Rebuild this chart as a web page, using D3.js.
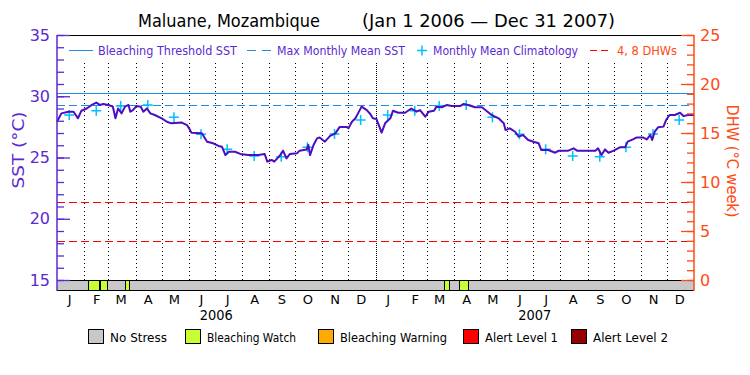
<!DOCTYPE html>
<html>
<head>
<meta charset="utf-8">
<script src="https://cdn.jsdelivr.net/npm/d3@7"></script>
<style>
body { margin: 0; background: #fff; }
text { font-family: "DejaVu Sans", sans-serif; }
</style>
</head>
<body>
<div id="chart"></div>
<script>
// SST: day offset from Jan 1 2006, value in deg C
var sstDay = [0, 5, 13, 19, 24, 28, 34, 40, 45, 49, 53, 59, 64, 67, 70, 74, 78, 82, 84, 87, 91, 96, 99, 103, 107, 112, 120, 126, 131, 143, 149, 152, 154, 166, 172, 179, 185, 189, 193, 197, 204, 210, 219, 231, 238, 241, 246, 249, 256, 259, 263, 267, 275, 278, 286, 288, 290, 294, 298, 301, 307, 313, 319, 324, 332, 334, 338, 342, 345, 349, 355, 359, 362, 366, 368, 372, 376, 382, 385, 391, 399, 406, 412, 416, 422, 426, 432, 435, 441, 447, 452, 462, 466, 471, 479, 487, 492, 498, 506, 512, 514, 519, 525, 529, 534, 540, 546, 552, 555, 563, 571, 575, 586, 592, 596, 617, 620, 624, 628, 632, 638, 645, 651, 654, 660, 664, 672, 676, 680, 682, 685, 689, 695, 698, 702, 708, 714, 718, 723, 730];
var sstVal = [27.92, 28.6, 28.74, 28.74, 28.2, 28.82, 29.0, 29.29, 29.48, 29.29, 29.37, 29.29, 29.15, 28.2, 29.0, 28.6, 29.15, 29.29, 28.74, 28.87, 29.2, 29.15, 28.74, 29.0, 28.6, 28.47, 28.2, 27.92, 27.79, 27.85, 27.65, 27.3, 27.03, 26.98, 26.29, 26.16, 25.94, 25.88, 25.2, 25.47, 25.47, 25.29, 25.2, 25.2, 25.29, 24.66, 24.8, 24.66, 25.2, 25.56, 24.93, 25.29, 25.34, 25.56, 25.65, 26.02, 25.2, 26.02, 26.56, 26.63, 26.29, 26.76, 26.97, 27.5, 27.5, 27.38, 27.92, 28.2, 28.6, 29.15, 28.87, 28.55, 28.2, 28.15, 27.79, 27.03, 27.79, 28.2, 28.82, 28.65, 28.65, 29.0, 28.74, 28.87, 28.33, 28.74, 28.82, 29.15, 29.1, 29.29, 29.2, 29.2, 29.37, 29.29, 29.1, 29.1, 28.82, 28.47, 28.2, 27.79, 27.24, 27.38, 27.1, 26.7, 26.84, 26.43, 26.29, 26.16, 25.61, 25.61, 25.39, 25.56, 25.56, 25.75, 25.56, 25.56, 25.75, 25.2, 25.66, 25.39, 25.56, 25.83, 25.83, 26.29, 26.48, 26.63, 26.63, 26.48, 26.84, 26.43, 27.11, 27.47, 27.52, 28.06, 28.47, 28.47, 28.65, 28.38, 28.47, 28.47];

// monthly mean climatology, Jan..Dec
var climVal = [28.47, 28.82, 29.2, 29.29, 28.28, 26.89, 25.67, 25.12, 25.07, 25.83, 26.92, 28.06];
var mmmSST = 29.27;
var thresholdSST = 30.27;
var dhwLevels = [4, 8];

// bleaching watch periods (day offsets)
var watchStart = [36, 49.6, 78, 444, 461];
var watchEnd = [48.5, 57.6, 83, 449.6, 471.4];

var years = [2006, 2007];
var monthLetters = ["J", "F", "M", "A", "M", "J", "J", "A", "S", "O", "N", "D"];
var sstTicks = [15, 20, 25, 30, 35];
var dhwTicks = [0, 5, 10, 15, 20, 25];
var stressNames = ["No Stress", "Bleaching Watch", "Bleaching Warning", "Alert Level 1", "Alert Level 2"];

var purple = "#5a2ad2", lineCol = "#4b0ec0", blue = "#1e8ce6", cyan = "#00c0ff",
    orange = "#ff4a14", red = "#ff0000";
var stressColor = d3.scaleOrdinal().domain(stressNames)
    .range(["#c8c8c8", "#c8ff32", "#ffaa00", "#ff0000", "#960000"]);

var W = 750, H = 375;
var pLeft = 57, pRight = 694, pTop = 35, pBase = 280, pBottom = 290;

var svg = d3.select("#chart").append("svg")
    .attr("width", W).attr("height", H);

var t0 = Date.UTC(2006, 0, 1);
function dayDate(d) { return new Date(t0 + d * 864e5); }
function crisp(v) { return Math.round(v) + 0.5; }

var x = d3.scaleUtc().domain([dayDate(0), dayDate(730)]).range([pLeft, pRight]);
var ySST = d3.scaleLinear().domain([15, 35]).range([pBase, pTop]);
var yDHW = d3.scaleLinear().domain([0, 25]).range([pBase, pTop]);

function label(g, px, py, txt, len, size, color, anchor) {
    var t = g.append("text")
        .attr("x", px).attr("y", py)
        .attr("dy", "0.35em")
        .attr("font-size", size)
        .attr("fill", color)
        .attr("text-anchor", anchor || "start")
        .text(txt);
    if (len) t.attr("textLength", len).attr("lengthAdjust", "spacingAndGlyphs");
    return t;
}

// title
label(svg, 138, 21, "Maluane, Mozambique", 182, 17, "#000");
label(svg, 362, 21, "(Jan 1 2006 \u2014 Dec 31 2007)", 253, 17, "#000");

// month grid
var months = d3.utcMonth.range(dayDate(1), dayDate(730));
svg.append("g").selectAll("line")
    .data(months)
    .enter().append("line")
    .attr("x1", function(d) { return crisp(x(d)); })
    .attr("x2", function(d) { return crisp(x(d)); })
    .attr("y1", 63).attr("y2", pBase)
    .attr("stroke", "#000")
    .attr("stroke-dasharray", function(d) { return d.getUTCMonth() == 0 ? "1,1" : "1,3"; });

// threshold lines
svg.append("line")
    .attr("x1", pLeft).attr("x2", pRight)
    .attr("y1", crisp(ySST(thresholdSST))).attr("y2", crisp(ySST(thresholdSST)))
    .attr("stroke", blue).attr("stroke-width", 1);
svg.append("line")
    .attr("x1", pLeft).attr("x2", pRight)
    .attr("y1", crisp(ySST(mmmSST))).attr("y2", crisp(ySST(mmmSST)))
    .attr("stroke", blue).attr("stroke-width", 1)
    .attr("stroke-dasharray", "8,4");

// DHW lines
svg.append("g").selectAll("line")
    .data(dhwLevels)
    .enter().append("line")
    .attr("x1", pLeft).attr("x2", pRight)
    .attr("y1", function(d) { return crisp(yDHW(d)); })
    .attr("y2", function(d) { return crisp(yDHW(d)); })
    .attr("stroke", red).attr("stroke-width", 1)
    .attr("stroke-dasharray", "8,4");

// climatology crosses, mid month for both years
var clim = [];
years.forEach(function(yr) {
    climVal.forEach(function(v, i) {
        clim.push({date: new Date(Date.UTC(yr, i, 15)), value: v});
    });
});
svg.append("g").selectAll("path")
    .data(clim)
    .enter().append("path")
    .attr("d", function(d) {
        var cx = x(d.date), cy = ySST(d.value);
        return "M" + (cx - 5) + "," + cy + "H" + (cx + 5) + "M" + cx + "," + (cy - 5) + "V" + (cy + 5);
    })
    .attr("stroke", cyan).attr("stroke-width", 1.5).attr("fill", "none");

// SST line
var line = d3.line()
    .x(function(d, i) { return x(dayDate(sstDay[i])); })
    .y(function(d) { return ySST(d); });
svg.append("path")
    .datum(sstVal)
    .attr("d", line)
    .attr("fill", "none")
    .attr("stroke", lineCol)
    .attr("stroke-width", 2)
    .attr("stroke-linejoin", "round");

// stress bar
svg.append("rect")
    .attr("x", pLeft).attr("y", pBase)
    .attr("width", pRight - pLeft).attr("height", pBottom - pBase)
    .attr("fill", stressColor("No Stress"));
svg.append("g").selectAll("rect")
    .data(watchStart)
    .enter().append("rect")
    .attr("x", function(d) { return crisp(x(dayDate(d))); })
    .attr("y", pBase + 0.5)
    .attr("width", function(d, i) { return Math.round(x(dayDate(watchEnd[i])) - x(dayDate(d))); })
    .attr("height", pBottom - pBase)
    .attr("fill", stressColor("Bleaching Watch"))
    .attr("stroke", "#000").attr("stroke-width", 1);

// frame
svg.append("line").attr("x1", pLeft).attr("x2", pRight).attr("y1", pTop + 0.5).attr("y2", pTop + 0.5).attr("stroke", "#000");
svg.append("line").attr("x1", pLeft).attr("x2", pRight).attr("y1", pBase + 0.5).attr("y2", pBase + 0.5).attr("stroke", "#000");
svg.append("line").attr("x1", pLeft).attr("x2", pRight).attr("y1", pBottom + 0.5).attr("y2", pBottom + 0.5).attr("stroke", "#000");

// left axis
var gl = svg.append("g").attr("transform", "translate(" + pLeft + ",0)");
gl.call(d3.axisLeft(ySST).tickValues(d3.range(15, 36)).tickSize(-7).tickSizeOuter(0).tickFormat(""));
gl.select(".domain").remove();
var gl2 = svg.append("g").attr("transform", "translate(" + pLeft + ",0)");
gl2.call(d3.axisLeft(ySST).tickValues(sstTicks).tickSize(-13).tickSizeOuter(0).tickPadding(7));
gl2.select(".domain").remove();
gl.selectAll(".tick line").attr("stroke", purple).attr("stroke-width", 1.3);
gl2.selectAll(".tick line").attr("stroke", purple).attr("stroke-width", 1.3);
gl2.selectAll("text").attr("fill", purple).attr("font-size", 16).attr("font-family", "DejaVu Sans");
svg.append("line").attr("x1", pLeft).attr("x2", pLeft).attr("y1", pTop).attr("y2", pBottom + 1)
    .attr("stroke", purple).attr("stroke-width", 1.5);

// right axis
var gr = svg.append("g").attr("transform", "translate(" + pRight + ",0)");
gr.call(d3.axisRight(yDHW).tickValues(d3.range(0, 26)).tickSize(-7).tickSizeOuter(0).tickFormat(""));
gr.select(".domain").remove();
var gr2 = svg.append("g").attr("transform", "translate(" + pRight + ",0)");
gr2.call(d3.axisRight(yDHW).tickValues(dhwTicks).tickSize(-13).tickSizeOuter(0).tickPadding(6));
gr2.select(".domain").remove();
gr.selectAll(".tick line").attr("stroke", orange).attr("stroke-width", 1.3);
gr2.selectAll(".tick line").attr("stroke", orange).attr("stroke-width", 1.3);
gr2.selectAll("text").attr("fill", orange).attr("font-size", 16).attr("font-family", "DejaVu Sans");
svg.append("line").attr("x1", pRight).attr("x2", pRight).attr("y1", pTop).attr("y2", pBottom + 1)
    .attr("stroke", orange).attr("stroke-width", 1.5);

// axis titles
svg.append("text")
    .attr("transform", "translate(18,150) rotate(-90)")
    .attr("text-anchor", "middle").attr("dy", "0.35em")
    .attr("font-size", 16).attr("fill", purple)
    .attr("textLength", 77).attr("lengthAdjust", "spacingAndGlyphs")
    .text("SST (\u00b0C)");
svg.append("text")
    .attr("transform", "translate(733,161) rotate(90)")
    .attr("text-anchor", "middle").attr("dy", "0.35em")
    .attr("font-size", 16).attr("fill", orange)
    .attr("textLength", 113).attr("lengthAdjust", "spacingAndGlyphs")
    .text("DHW (\u00b0C week)");

// month labels
var mids = [];
years.forEach(function(yr) {
    monthLetters.forEach(function(m, i) { mids.push(new Date(Date.UTC(yr, i, 15))); });
});
var gx = svg.append("g").attr("transform", "translate(0," + pBottom + ")");
gx.call(d3.axisBottom(x).tickValues(mids).tickSize(0).tickPadding(5)
    .tickFormat(function(d) { return monthLetters[d.getUTCMonth()]; }));
gx.select(".domain").remove();
gx.selectAll("text").attr("font-size", 13).attr("font-family", "DejaVu Sans").attr("fill", "#000");

years.forEach(function(yr) {
    var mid = new Date((Date.UTC(yr, 0, 1) + Date.UTC(yr + 1, 0, 1)) / 2);
    label(svg, x(mid), 315, String(yr), 33, 14, "#000", "middle");
});

// top legend
var ly = 50.5;
svg.append("line").attr("x1", 69).attr("x2", 93).attr("y1", ly).attr("y2", ly).attr("stroke", blue).attr("stroke-width", 1);
label(svg, 98, ly, "Bleaching Threshold SST", 139, 12, purple);
svg.append("line").attr("x1", 247).attr("x2", 271).attr("y1", ly).attr("y2", ly).attr("stroke", blue)
    .attr("stroke-width", 1).attr("stroke-dasharray", "9,6");
label(svg, 277, ly, "Max Monthly Mean SST", 128, 12, purple);
svg.append("path").attr("d", "M417," + ly + "H427M422," + (ly - 5) + "V" + (ly + 5))
    .attr("stroke", cyan).attr("stroke-width", 1.5);
label(svg, 433, ly, "Monthly Mean Climatology", 145, 12, purple);
svg.append("line").attr("x1", 590).attr("x2", 608).attr("y1", ly).attr("y2", ly).attr("stroke", red)
    .attr("stroke-width", 1).attr("stroke-dasharray", "7,4");
label(svg, 617, ly, "4, 8 DHWs", 60, 12, orange);

// stress legend
var legX = [88, 185, 318, 463, 571];
var legLen = [57, 89, 107, 73, 75];
var lg = svg.append("g").selectAll("g")
    .data(stressNames)
    .enter().append("g");
lg.append("rect")
    .attr("x", function(d, i) { return legX[i] + 0.5; })
    .attr("y", 329.5).attr("width", 15).attr("height", 14)
    .attr("fill", function(d) { return stressColor(d); })
    .attr("stroke", "#000");
lg.each(function(d, i) {
    label(d3.select(this), legX[i] + 22, 337, d, legLen[i], 13, "#000");
});
</script>
</body>
</html>
